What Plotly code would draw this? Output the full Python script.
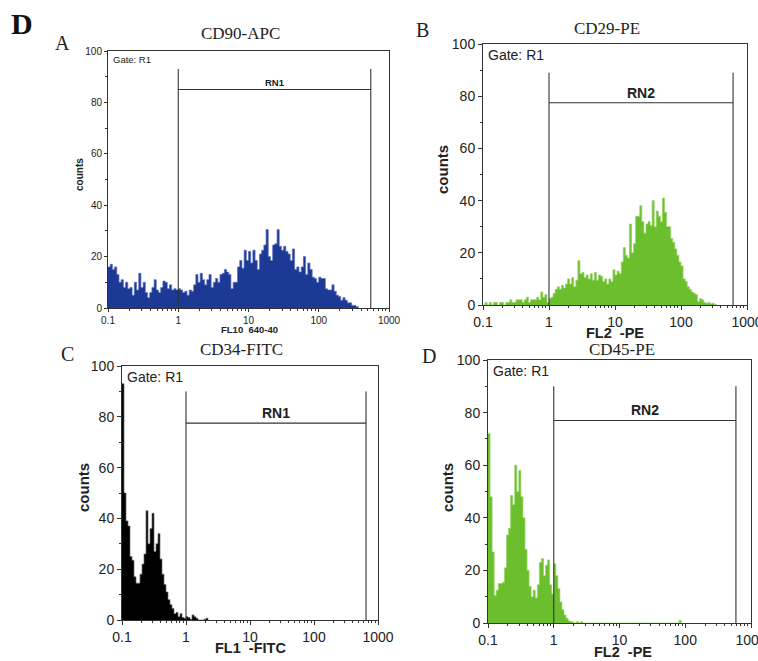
import math
import plotly.graph_objects as go

W, H = 758, 661
BINS_PER_DECADE = 32
LOG_START = -1  # histograms start at 0.1

# ---------------- data (counts per log channel, 32 channels / decade from 0.1) ----------------
cd90_counts = [16, 17, 15, 16, 13, 10, 11, 8, 10, 7.5, 8, 5, 10, 7, 13.5, 8, 10, 6, 4, 6,
               8, 11, 7, 6, 8, 10.5, 10, 7.5, 9, 7, 7.5, 7,
               7.5, 7, 6, 6.5, 5, 7, 6.5, 9, 13, 10, 13.5, 11, 9, 11, 13, 8, 10, 11.5,
               10, 13, 13.5, 15, 14, 13, 7.5, 10, 10, 16, 18.5, 15.5, 22.5, 18.5,
               22, 17.5, 22.5, 18.5, 15, 21, 22.5, 24.5, 30.5, 20, 18.5, 24.5, 25, 30.5,
               24, 22.5, 24, 22, 21, 18.5, 23, 15, 16, 14, 16, 20, 13, 17.5, 15, 12, 11.5, 10,
               12, 11.5, 11.5, 7.5, 7, 7, 9, 6.5, 5, 4.5, 3, 4, 3, 2, 2, 1, 1, 0.5]

cd29_counts = [0, 1, 0, 1, 0, 1, 1, 0, 1, 1, 0, 1, 1, 2, 1, 1, 2, 2, 2, 1, 2, 3, 1, 2,
               2, 2, 3, 2, 5, 3, 4, 1,
               2.5, 3, 4.5, 6, 7, 6, 7.5, 6.5, 8, 10, 8, 10.5, 7, 9.5, 17, 12, 12.5, 10.5,
               11.5, 10, 12, 9.5, 12.5, 9.5, 11.5, 11, 9, 10, 8, 10, 9, 13.5,
               11.5, 13, 12, 16.5, 22, 19, 18, 31, 20, 23.5, 34, 34, 38, 32, 27.5, 31,
               32, 30.5, 40, 30, 36, 34, 32, 41, 35.5, 30, 30, 25.5, 24, 21.5, 19, 16.5,
               15, 10, 9, 7, 6, 5, 4.5, 4, 1.3, 2.5, 2, 1, 0.7, 1, 0.5, 0.7, 0.3]

cd34_counts = [93, 50, 39, 37, 25, 23.5, 17, 14.5, 14.5, 18, 22, 26, 43, 30, 36, 42, 27, 30,
               34, 24, 18, 14, 11, 8, 6, 4.5, 2.5, 3, 1.3, 2.5, 1, 0.7, 1.3, 1, 0.3, 2,
               1.3, 0.7, 0, 0, 0, 0.3, 0.7]

cd45_counts = [72, 48, 27, 10.5, 12.5, 15, 15, 15.5, 21, 33.5, 36, 48.5, 45, 60, 50, 58, 48,
               40, 28, 20, 14, 10, 12.5, 9.5, 14.5, 23, 24.5, 18, 22, 24, 14.5, 11, 22.5,
               18, 13, 8, 5, 3, 1.8, 0.8, 0.5, 0.3, 0, 0.5, 0, 0.5, 0] + [0] * 46 + [1]

titles = ["CD90-APC", "CD29-PE", "CD34-FITC", "CD45-PE"]
panel_letters = ["A", "B", "C", "D"]
x_titles = ["FL10  640-40", "FL2  -PE", "FL1  -FITC", "FL2  -PE"]
gate_names = ["RN1", "RN2", "RN1", "RN2"]
gate_lo = [1, 1, 1, 1]
gate_hi = [550, 615, 650, 590]
gate_top = [93, 89, 90, 90]
gate_bar = [85, 77.5, 77.5, 77]

x_tick_vals = [0.1, 1, 10, 100, 1000]
x_tick_text = ["0.1", "1", "10", "100", "1000"]
y_tick_vals = [0, 20, 40, 60, 80, 100]

# ---------------- layout geometry (pixels) ----------------
# (left, right, top, bottom) of each plot area
boxes = [(108, 389, 51, 308), (483, 747, 44, 305), (122, 378, 366, 620), (488, 751, 360, 623)]
fills = ["#1d3996", "#6cbf2c", "#000000", "#6cbf2c"]
edges_col = ["#5a70bd", "#97d466", "#666666", "#97d466"]
small = [True, False, False, False]

counts_all = [cd90_counts, cd29_counts, cd34_counts, cd45_counts]

fig = go.Figure()
minor_vals = [k * 10 ** d for d in range(-1, 3) for k in range(2, 10)]

for i in range(4):
    l, r, t, b = boxes[i]
    xa = "xaxis" if i == 0 else f"xaxis{i+1}"
    ya = "yaxis" if i == 0 else f"yaxis{i+1}"
    xr = "x" if i == 0 else f"x{i+1}"
    yr = "y" if i == 0 else f"y{i+1}"
    cnt = counts_all[i]
    edges = [10 ** (LOG_START + k / BINS_PER_DECADE) for k in range(len(cnt) + 1)]
    fig.add_trace(go.Scatter(
        x=edges, y=list(cnt) + [0], mode="lines", line=dict(shape="hv", color=edges_col[i], width=0.7),
        fill="tozeroy", fillcolor=fills[i], xaxis=xr, yaxis=yr, hoverinfo="skip"))
    # gate marker
    gx = [gate_lo[i], gate_lo[i], None, gate_hi[i], gate_hi[i], None, gate_lo[i], gate_hi[i]]
    gy = [0, gate_top[i], None, 0, gate_top[i], None, gate_bar[i], gate_bar[i]]
    fig.add_trace(go.Scatter(x=gx, y=gy, mode="lines", line=dict(color="#333333", width=1.1),
                             xaxis=xr, yaxis=yr, hoverinfo="skip"))

    fs = 10 if small[i] else 14
    common = dict(showline=True, linecolor="#333333", linewidth=1, mirror=True, showgrid=False,
                  zeroline=False, automargin=False, ticks="outside", ticklen=3 if small[i] else 4,
                  tickcolor="#333333", ticklabeloverflow="allow",
                  tickfont=dict(family="Liberation Sans, Arial", size=fs, color="#222222"))
    fig.layout[xa] = dict(
        domain=[l / W, r / W], anchor=yr, type="log", range=[-1, 3],
        tickmode="array", tickvals=x_tick_vals, ticktext=x_tick_text,
        minor=dict(tickmode="array", tickvals=minor_vals, ticks="outside", ticklen=2, tickcolor="#333333"),
        **common)
    fig.layout[ya] = dict(
        domain=[1 - b / H, 1 - t / H], anchor=xr, range=[0, 100],
        tickmode="array", tickvals=y_tick_vals,
        minor=dict(dtick=10, ticks="outside", ticklen=2, tickcolor="#333333"),
        **common)

    # inside texts
    gfs = 9.5 if small[i] else 14
    fig.add_annotation(x=(l + 3) / W, y=1 - (t + 1) / H, xref="paper", yref="paper", text="Gate: R1",
                       showarrow=False, xanchor="left", yanchor="top",
                       font=dict(family="Liberation Sans, Arial", size=gfs, color="#222222"))
    fig.add_annotation(x=(math.log10(gate_lo[i]) + math.log10(gate_hi[i])) / 2, y=gate_bar[i],
                       xref=xr, yref=yr, text=f"<b>{gate_names[i]}</b>", showarrow=False,
                       yanchor="bottom", yshift=0,
                       font=dict(family="Liberation Sans, Arial", size=gfs, color="#222222"))

# titles, panel letters, axis titles (pixel positions)
title_pos = [(240, 33), (607, 29), (241, 350), (622, 349)]
letter_pos = [(62, 43), (422, 30), (67, 354), (429, 356)]
xt_pos = [(249, 329), (615, 333), (250, 648), (623, 652)]
yt_pos = [(80, 175), (442, 170), (83, 488), (447, 488)]
for i in range(4):
    fig.add_annotation(x=title_pos[i][0] / W, y=1 - title_pos[i][1] / H, xref="paper", yref="paper",
                       text=titles[i], showarrow=False, xanchor="center", yanchor="middle",
                       font=dict(family="Liberation Serif, Times New Roman", size=17, color="#222222"))
    fig.add_annotation(x=letter_pos[i][0] / W, y=1 - letter_pos[i][1] / H, xref="paper", yref="paper",
                       text=panel_letters[i], showarrow=False, xanchor="center", yanchor="middle",
                       font=dict(family="Liberation Serif, Times New Roman", size=20, color="#222222"))
    fsz = 9.5 if small[i] else 14.5
    fig.add_annotation(x=xt_pos[i][0] / W, y=1 - xt_pos[i][1] / H, xref="paper", yref="paper",
                       text=f"<b>{x_titles[i]}</b>", showarrow=False, xanchor="center", yanchor="middle",
                       font=dict(family="Liberation Sans, Arial", size=fsz, color="#222222"))
    fig.add_annotation(x=yt_pos[i][0] / W, y=1 - yt_pos[i][1] / H, xref="paper", yref="paper",
                       text="<b>counts</b>", showarrow=False, textangle=-90, xanchor="center", yanchor="middle",
                       font=dict(family="Liberation Sans, Arial", size=10 if small[i] else 15, color="#222222"))

fig.add_annotation(x=22 / W, y=1 - 23 / H, xref="paper", yref="paper", text="<b>D</b>", showarrow=False,
                   xanchor="center", yanchor="middle",
                   font=dict(family="Liberation Serif, Times New Roman", size=30, color="#111111"))

fig.update_layout(width=W, height=H, margin=dict(l=0, r=0, t=0, b=0), showlegend=False,
                  plot_bgcolor="white", paper_bgcolor="white")
fig.write_html("out.html", config={"displayModeBar": False},
               post_script="document.body.style.margin='0';document.body.style.overflow='hidden';")
